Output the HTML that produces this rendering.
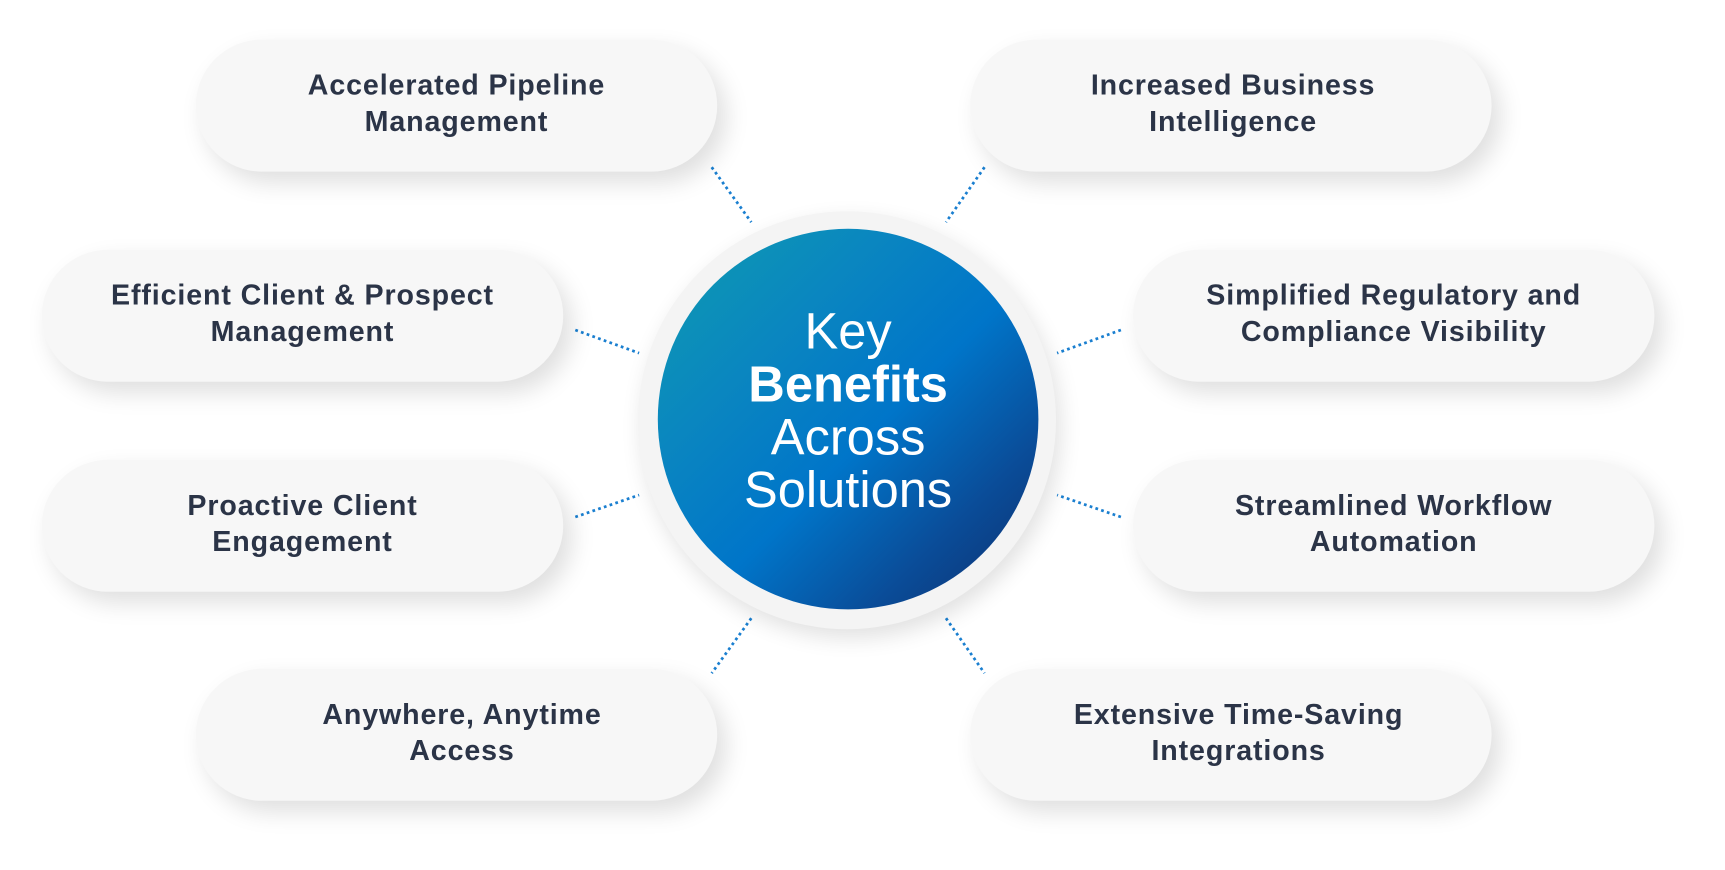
<!DOCTYPE html>
<html><head><style>
html,body{margin:0;padding:0;background:#fff;width:1725px;height:870px;overflow:hidden}
#w{position:absolute;left:0;top:0;width:1570px;height:791px;transform:scale(1.1);transform-origin:0 0;font-family:"Liberation Sans",sans-serif}
.p{position:absolute;width:474px;height:120px;border-radius:60px;background:#f7f7f7;box-shadow:8px 10px 22px rgba(0,0,0,0.13);display:flex;align-items:center;justify-content:center;text-align:center;font-weight:bold;font-size:26px;letter-spacing:0.8px;line-height:33px;color:#2b3447;padding-bottom:4px;box-sizing:border-box}
.ring{position:absolute;left:580px;top:192px;width:380px;height:380px;border-radius:50%;background:#f4f4f4;box-shadow:4px 8px 20px rgba(0,0,0,0.12)}
.c{position:absolute;left:598px;top:208px;width:346px;height:346px;border-radius:50%;background:linear-gradient(135deg,#0e9cb0 0%,#0a86c0 30%,#0075c9 55%,#0a4c98 78%,#0e2e6c 100%);color:#fff;text-align:center;font-size:46px;line-height:48px;display:flex;flex-direction:column;justify-content:center;padding-bottom:16px;box-sizing:border-box}
svg{position:absolute;left:0;top:0}
</style></head><body><div id="w">
<svg width="1570" height="791"><g stroke="#1a7fd0" stroke-width="2.5" stroke-dasharray="2.5 3" fill="none">
<line x1="647" y1="152" x2="683" y2="202"/><line x1="895" y1="152" x2="860" y2="202"/>
<line x1="523" y1="300" x2="581" y2="321"/><line x1="1019" y1="300" x2="961" y2="321"/>
<line x1="523" y1="470" x2="581" y2="450"/><line x1="1019" y1="470" x2="961" y2="450"/>
<line x1="683" y1="562" x2="647" y2="612"/><line x1="860" y1="562" x2="895" y2="612"/></g></svg>
<div class="p" style="left:178px;top:36px">Accelerated Pipeline<br>Management</div>
<div class="p" style="left:882px;top:36px;padding-left:4px">Increased Business<br>Intelligence</div>
<div class="p" style="left:38px;top:227px">Efficient Client &amp; Prospect<br>Management</div>
<div class="p" style="left:1030px;top:227px">Simplified Regulatory and<br>Compliance Visibility</div>
<div class="p" style="left:38px;top:418px">Proactive Client<br>Engagement</div>
<div class="p" style="left:1030px;top:418px">Streamlined Workflow<br>Automation</div>
<div class="p" style="left:178px;top:608px;padding-left:10px">Anywhere, Anytime<br>Access</div>
<div class="p" style="left:882px;top:608px;padding-left:14px">Extensive Time-Saving<br>Integrations</div>
<div class="ring"></div>
<div class="c"><div>Key</div><div style="font-weight:bold">Benefits</div><div>Across</div><div>Solutions</div></div>
</div></body></html>
